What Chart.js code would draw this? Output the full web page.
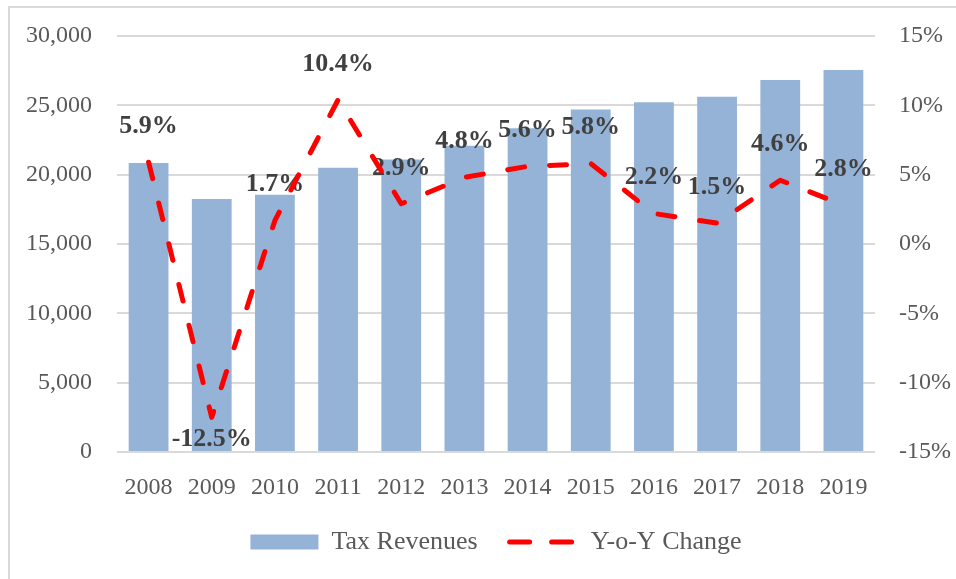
<!DOCTYPE html>
<html>
<head>
<meta charset="utf-8">
<script src="https://cdn.jsdelivr.net/npm/chart.js@4/dist/chart.umd.min.js"></script>
<style>
  html, body { margin: 0; padding: 0; background: #fff; }
  #wrap { width: 956px; height: 579px; }
</style>
</head>
<body>
<div id="wrap"><canvas id="tax_chart"></canvas></div>
<script>
var years = ["2008", "2009", "2010", "2011", "2012", "2013", "2014", "2015", "2016", "2017", "2018", "2019"];
var taxRevenues = [20850, 18250, 18550, 20500, 21100, 22080, 23340, 24700, 25230, 25620, 26820, 27540];
var yoyChange = [5.9, -12.5, 1.7, 10.4, 2.9, 4.8, 5.6, 5.8, 2.2, 1.5, 4.6, 2.8];

var barColor = '#95B3D7';
var lineColor = '#FF0000';
var tickColor = '#595959';

Chart.defaults.font.family = "'Liberation Serif', 'Times New Roman', serif";
Chart.defaults.font.size = 24;
Chart.defaults.color = tickColor;

// outer frame of the chart (cut off at right and bottom like the picture)
var framePlugin = {
    id: 'frame',
    beforeDraw: function (chart) {
        var c = chart.ctx;
        c.save();
        c.strokeStyle = '#d9d9d9';
        c.lineWidth = 2;
        c.strokeRect(9, 7, 1000, 600);
        c.restore();
    }
};

// value labels of the line, drawn after the bars and before the line
var yoyLabels = {
    id: 'yoyLabels',
    afterDatasetDraw: function (chart, args) {
        if (args.index !== 0) return;
        var meta = chart.getDatasetMeta(1);
        var c = chart.ctx;
        c.save();
        c.font = "bold 26px 'Liberation Serif', serif";
        c.fillStyle = '#404040';
        c.textAlign = 'center';
        c.textBaseline = 'middle';
        meta.data.forEach(function (pt, i) {
            var v = yoyChange[i];
            var y = v < 0 ? pt.y + 22 : pt.y - 36;
            c.fillText(v.toFixed(1) + '%', pt.x, y);
        });
        c.restore();
    }
};

// fixed axis widths, and no extra top/bottom room for the tick labels
function fixWidth(w) {
    return function (s) {
        s.width = w;
        s.paddingTop = 0;
        s.paddingBottom = 0;
    };
}

var ctx = document.getElementById("tax_chart").getContext('2d');
var taxChart = new Chart(ctx, {
    type: 'bar',
    data: {
        labels: years,
        datasets: [{
            label: 'Tax Revenues',
            data: taxRevenues,
            backgroundColor: barColor,
            borderWidth: 0,
            barPercentage: 0.63,
            categoryPercentage: 1,
            yAxisID: 'y',
            order: 1
        }, {
            type: 'line',
            label: 'Y-o-Y Change',
            data: yoyChange,
            borderColor: lineColor,
            borderWidth: 5,
            borderDash: [17, 25],
            borderCapStyle: 'round',
            borderJoinStyle: 'round',
            pointRadius: 0,
            tension: 0,
            fill: false,
            yAxisID: 'y1',
            order: 0
        }]
    },
    options: {
        responsive: true,
        maintainAspectRatio: false,
        animation: false,
        layout: { padding: { top: 36, bottom: 14, left: 0, right: 0 } },
        scales: {
            x: {
                grid: { display: false, drawTicks: false },
                border: { display: false },
                ticks: { padding: 21, color: tickColor, maxRotation: 0 },
                afterFit: function (s) { s.height = 45; }
            },
            y: {
                position: 'left',
                min: 0, max: 30000,
                ticks: {
                    stepSize: 5000, padding: 25, color: tickColor,
                    callback: function (v) { return v.toLocaleString('en-US'); }
                },
                grid: { color: '#d9d9d9', lineWidth: 2, drawTicks: false },
                border: { display: false },
                afterFit: fixWidth(117)
            },
            y1: {
                position: 'right',
                min: -15, max: 15,
                ticks: {
                    stepSize: 5, padding: 24, color: tickColor,
                    callback: function (v) { return v + '%'; }
                },
                grid: { display: false, drawTicks: false },
                border: { display: false },
                afterFit: fixWidth(81)
            }
        },
        plugins: {
            tooltip: { enabled: false },
            legend: {
                position: 'bottom',
                fullSize: false, // centred under the plot area, like the original
                labels: {
                    usePointStyle: true,
                    pointStyleWidth: 68,
                    boxHeight: 15,
                    padding: 32,
                    color: tickColor,
                    font: { size: 26 },
                    generateLabels: function () {
                        return [{
                            text: 'Tax Revenues', fillStyle: barColor, strokeStyle: barColor,
                            lineWidth: 0, pointStyle: 'rect', datasetIndex: 0, fontColor: tickColor
                        }, {
                            text: 'Y-o-Y Change', fillStyle: lineColor, strokeStyle: lineColor,
                            lineWidth: 5, lineDash: [20, 22], lineCap: 'round',
                            pointStyle: 'line', datasetIndex: 1, fontColor: tickColor
                        }];
                    }
                }
            }
        }
    },
    plugins: [framePlugin, yoyLabels]
});
</script>
</body>
</html>
